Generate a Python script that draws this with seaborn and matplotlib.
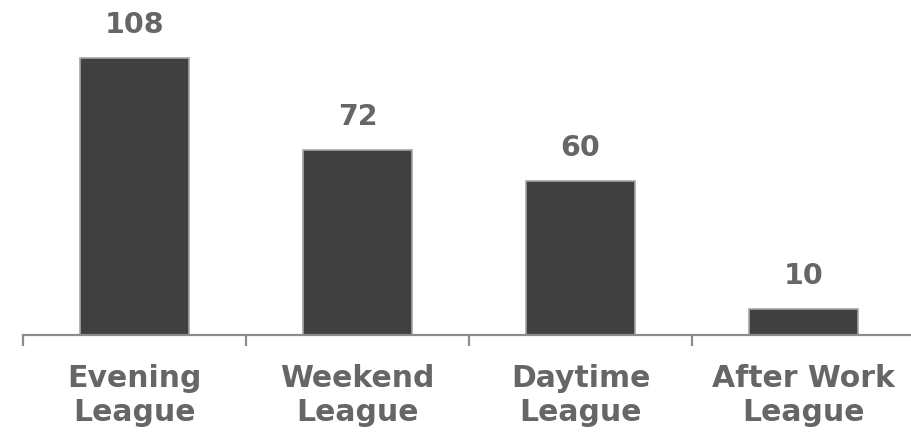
import matplotlib
matplotlib.use("Agg")
import matplotlib.pyplot as plt
import seaborn as sns
import pandas as pd

leagues = ["Evening\nLeague", "Weekend\nLeague", "Daytime\nLeague", "After Work\nLeague"]
players = [108, 72, 60, 10]

df = pd.DataFrame({"league": leagues, "players": players})

sns.set_theme(style="white")
plt.rcParams["font.family"] = ["DejaVu Sans"]

BAR = "#404040"
TEXT = "#666666"
AXIS = "#8c8c8c"

fig = plt.figure(figsize=(9.12, 4.33), dpi=100)
ax = fig.add_axes([23 / 912, 98 / 433, 892 / 912, 335 / 433])

sns.barplot(data=df, x="league", y="players", color=BAR, width=0.49,
            edgecolor="#a6a6a6", linewidth=1.2, saturation=1, ax=ax)

ax.set_xlim(-0.5, len(leagues) - 0.5)
ax.set_ylim(0, 130.6)
ax.set_xlabel("")
ax.set_ylabel("")
ax.set_yticks([])

for side in ["top", "right", "left"]:
    ax.spines[side].set_visible(False)
ax.spines["bottom"].set_color(AXIS)
ax.spines["bottom"].set_linewidth(1.6)

# category labels centred under bars, separators at category boundaries
ax.set_xticks(range(len(leagues)))
ax.set_xticklabels(leagues, fontsize=21.5, fontweight="bold", color=TEXT,
                   linespacing=1.2)
ax.tick_params(axis="x", which="major", length=0, pad=21)
ax.set_xticks([i - 0.5 for i in range(len(leagues))], minor=True)
ax.tick_params(axis="x", which="minor", length=8, width=1.6, color=AXIS,
               direction="out", bottom=True)

for i, v in enumerate(players):
    ax.annotate(f"{v}", (i, v), xytext=(0, 14), textcoords="offset points",
                ha="center", va="bottom", fontsize=20.5, fontweight="bold",
                color=TEXT)

fig.savefig("out.png", dpi=100)
